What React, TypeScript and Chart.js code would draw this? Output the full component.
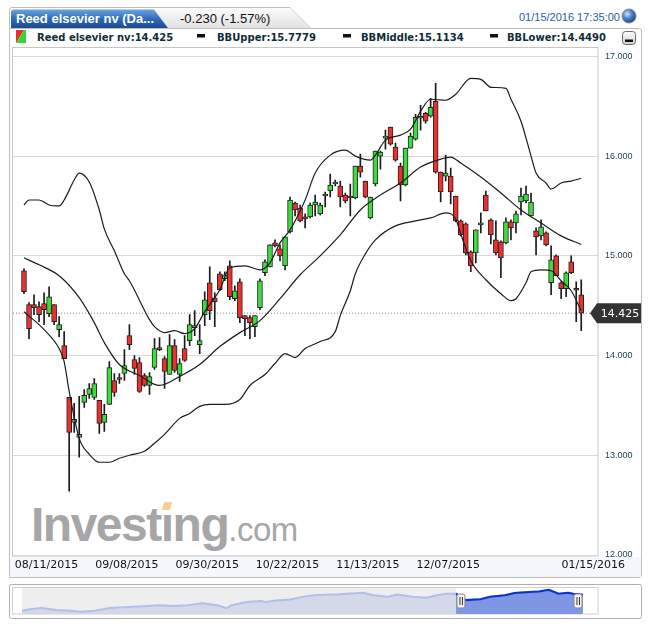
import React, { useEffect, useRef } from 'react';
import { Chart, registerables } from 'chart.js';

Chart.register(...registerables);

// trading sessions shown in the main chart
const tradingDays = [
  '08/11/2015', '08/12/2015', '08/13/2015', '08/14/2015', '08/17/2015', '08/18/2015', '08/19/2015', '08/20/2015',
  '08/21/2015', '08/24/2015', '08/25/2015', '08/26/2015', '08/27/2015', '08/28/2015', '08/31/2015',
  '09/01/2015', '09/02/2015', '09/03/2015', '09/04/2015', '09/07/2015', '09/08/2015', '09/09/2015', '09/10/2015',
  '09/11/2015', '09/14/2015', '09/15/2015', '09/16/2015', '09/17/2015', '09/18/2015', '09/21/2015', '09/22/2015',
  '09/23/2015', '09/24/2015', '09/25/2015', '09/28/2015', '09/29/2015', '09/30/2015',
  '10/01/2015', '10/02/2015', '10/05/2015', '10/06/2015', '10/07/2015', '10/08/2015', '10/09/2015', '10/12/2015',
  '10/13/2015', '10/14/2015', '10/15/2015', '10/16/2015', '10/19/2015', '10/20/2015', '10/21/2015', '10/22/2015',
  '10/23/2015', '10/26/2015', '10/27/2015', '10/28/2015', '10/29/2015', '10/30/2015',
  '11/02/2015', '11/03/2015', '11/04/2015', '11/05/2015', '11/06/2015', '11/09/2015', '11/10/2015', '11/11/2015',
  '11/12/2015', '11/13/2015', '11/16/2015', '11/17/2015', '11/18/2015', '11/19/2015', '11/20/2015', '11/23/2015',
  '11/24/2015', '11/25/2015', '11/26/2015', '11/27/2015', '11/30/2015',
  '12/01/2015', '12/02/2015', '12/03/2015', '12/04/2015', '12/07/2015', '12/08/2015', '12/09/2015', '12/10/2015',
  '12/11/2015', '12/14/2015', '12/15/2015', '12/16/2015', '12/17/2015', '12/18/2015', '12/21/2015', '12/22/2015',
  '12/23/2015', '12/24/2015', '12/28/2015', '12/29/2015', '12/30/2015', '12/31/2015',
  '01/04/2016', '01/05/2016', '01/06/2016', '01/07/2016', '01/08/2016', '01/11/2016', '01/12/2016', '01/13/2016',
  '01/14/2016', '01/15/2016',
];

const opens = [
  14.85, 14.51, 14.51, 14.49, 14.52, 14.42, 14.51, 14.26, 14.10, 13.58,
  13.33, 13.18, 13.53, 13.61, 13.58, 13.55, 13.33, 13.51, 13.75, 13.77,
  13.82, 14.20, 13.96, 13.93, 13.80, 13.70, 13.88, 14.08, 13.97, 13.81,
  14.10, 13.81, 14.07, 14.15, 14.28, 14.11, 14.41, 14.73, 14.58, 14.82,
  14.77, 14.90, 14.57, 14.74, 14.40, 14.38, 14.29, 14.48, 14.83, 14.89,
  15.13, 15.07, 14.90, 15.24, 15.53, 15.48, 15.39, 15.39, 15.51, 15.42,
  15.60, 15.65, 15.72, 15.70, 15.61, 15.59, 15.58, 15.90, 15.75, 15.38,
  15.72, 16.00, 16.18, 16.29, 16.09, 15.90, 15.71, 16.08, 16.17, 16.38,
  16.43, 16.40, 16.55, 15.84, 15.80, 15.80, 15.60, 15.35, 15.32, 15.04,
  15.03, 15.31, 15.61, 15.36, 15.16, 15.14, 15.13, 15.34, 15.33, 15.54,
  15.55, 15.40, 15.25, 15.20, 15.23, 14.73, 15.00, 14.73, 14.67, 14.94,
  14.66, 14.61,
];
const highs = [
  14.87, 14.53, 14.61, 14.54, 14.63, 14.69, 14.51, 14.39, 14.24, 13.58,
  13.52, 13.59, 13.66, 13.72, 13.77, 13.55, 13.51, 13.94, 13.82, 13.82,
  14.06, 14.31, 14.00, 13.98, 13.82, 13.83, 14.17, 14.18, 13.99, 14.21,
  14.16, 13.97, 14.20, 14.41, 14.45, 14.31, 14.64, 14.89, 14.63, 14.84,
  14.84, 14.95, 14.70, 14.77, 14.40, 14.40, 14.40, 14.77, 14.96, 15.11,
  15.16, 15.11, 15.19, 15.59, 15.54, 15.51, 15.42, 15.53, 15.61, 15.53,
  15.64, 15.82, 15.76, 15.75, 15.63, 15.72, 15.90, 16.02, 15.75, 15.59,
  16.05, 16.05, 16.26, 16.29, 16.13, 15.93, 16.08, 16.23, 16.42, 16.51,
  16.44, 16.58, 16.73, 15.84, 16.01, 15.88, 15.60, 15.36, 15.33, 15.05,
  15.26, 15.43, 15.65, 15.37, 15.35, 15.15, 15.38, 15.36, 15.45, 15.68,
  15.70, 15.63, 15.28, 15.36, 15.24, 15.10, 15.01, 14.74, 14.84, 15.00,
  14.74, 14.76,
];
const lows = [
  14.62, 14.17, 14.41, 14.34, 14.31, 14.39, 14.31, 14.19, 13.97, 12.64,
  13.23, 12.98, 13.48, 13.57, 13.56, 13.22, 13.24, 13.51, 13.59, 13.72,
  13.75, 14.06, 13.81, 13.63, 13.69, 13.61, 13.86, 14.05, 13.67, 13.81,
  13.83, 13.74, 13.94, 14.10, 14.20, 14.02, 14.30, 14.36, 14.29, 14.65,
  14.75, 14.56, 14.55, 14.33, 14.20, 14.17, 14.19, 14.46, 14.80, 14.89,
  15.09, 14.95, 14.86, 15.23, 15.40, 15.34, 15.28, 15.38, 15.40, 15.41,
  15.49, 15.59, 15.70, 15.49, 15.53, 15.40, 15.57, 15.79, 15.58, 15.37,
  15.70, 15.87, 16.07, 16.11, 15.95, 15.55, 15.70, 16.08, 16.16, 16.26,
  16.33, 16.39, 15.83, 15.54, 15.75, 15.52, 15.34, 15.20, 15.01, 14.84,
  14.93, 15.23, 15.45, 15.12, 15.01, 14.78, 15.12, 15.16, 15.23, 15.41,
  15.53, 15.40, 15.01, 15.16, 15.10, 14.61, 14.80, 14.57, 14.59, 14.82,
  14.34, 14.25,
];
const closes = [
  14.64, 14.27, 14.48, 14.41, 14.46, 14.59, 14.34, 14.31, 13.97, 13.23,
  13.36, 13.21, 13.60, 13.67, 13.72, 13.32, 13.41, 13.88, 13.63, 13.76,
  13.90, 14.11, 13.87, 13.64, 13.70, 13.79, 14.07, 14.06, 13.84, 14.10,
  13.85, 13.92, 13.95, 14.31, 14.29, 14.15, 14.56, 14.45, 14.54, 14.66,
  14.81, 14.59, 14.65, 14.38, 14.37, 14.33, 14.40, 14.75, 14.94, 15.11,
  15.10, 15.00, 15.19, 15.56, 15.46, 15.35, 15.37, 15.51, 15.54, 15.51,
  15.61, 15.71, 15.74, 15.59, 15.55, 15.58, 15.90, 15.84, 15.59, 15.59,
  16.05, 16.04, 16.19, 16.12, 15.96, 15.71, 16.08, 16.20, 16.39, 16.39,
  16.35, 16.49, 15.84, 15.64, 15.83, 15.64, 15.35, 15.21, 15.03, 14.90,
  15.26, 15.32, 15.45, 15.21, 15.03, 14.98, 15.34, 15.28, 15.42, 15.60,
  15.62, 15.54, 15.19, 15.29, 15.11, 14.96, 14.80, 14.67, 14.83, 14.83,
  14.655, 14.425,
];

// Bollinger bands, [session index, value]
const bbUpper: [number, number][] = [
  [0, 15.51], [1, 15.56], [3, 15.56], [5, 15.51], [7, 15.5], [8, 15.56], [10, 15.76], [11, 15.83],
  [13, 15.74], [15, 15.46], [16, 15.27], [18, 15.05], [20, 14.82], [21, 14.75], [25, 14.36], [26, 14.29],
  [28, 14.23], [30, 14.25], [32, 14.22], [34, 14.27], [36, 14.44], [39, 14.66], [41, 14.88], [44, 14.9],
  [47, 14.86], [49, 14.93], [51, 15.13], [53, 15.26], [56, 15.56], [58, 15.83], [61, 16.01], [64, 16.06],
  [66, 16.0], [69, 15.96], [70, 16.01], [72, 16.16], [75, 16.21], [77, 16.27], [79, 16.45], [81, 16.57],
  [84, 16.56], [86, 16.62], [89, 16.78], [91, 16.77], [93, 16.69], [96, 16.68], [97, 16.57], [99, 16.35],
  [101, 16.0], [102, 15.83], [104, 15.73], [105, 15.67], [107, 15.73], [109, 15.75], [111, 15.7779],
];
const bbMiddle: [number, number][] = [
  [0, 14.98], [3, 14.91], [7, 14.8], [11, 14.58], [14, 14.33], [16, 14.13], [19, 13.91], [23, 13.8],
  [27, 13.7], [31, 13.79], [35, 13.91], [39, 14.09], [43, 14.23], [47, 14.35], [51, 14.57], [55, 14.81],
  [59, 15.0], [63, 15.21], [67, 15.46], [71, 15.61], [75, 15.73], [79, 15.89], [83, 15.97], [85, 15.99],
  [87, 15.93], [91, 15.79], [95, 15.63], [99, 15.46], [103, 15.33], [107, 15.2], [111, 15.1134],
];
const bbLower: [number, number][] = [
  [0, 14.44], [4, 14.26], [7, 14.07], [8, 13.94], [9, 13.64], [11, 13.17], [13, 13.01], [15, 12.93],
  [17, 12.93], [19, 12.97], [21, 13.0], [24, 13.04], [26, 13.12], [28, 13.21], [31, 13.37], [33, 13.42],
  [35, 13.49], [37, 13.51], [40, 13.51], [43, 13.56], [45, 13.7], [48, 13.81], [50, 13.92], [52, 14.02],
  [54, 13.98], [56, 14.07], [59, 14.14], [62, 14.24], [63, 14.4], [65, 14.65], [66, 14.82], [68, 15.02],
  [70, 15.16], [74, 15.3], [78, 15.35], [81, 15.38], [84, 15.43], [86, 15.37], [87, 15.22], [89, 14.95],
  [92, 14.76], [95, 14.62], [97, 14.55], [98, 14.57], [100, 14.73], [101, 14.84], [103, 14.86], [105, 14.85],
  [107, 14.75], [109, 14.65], [111, 14.449],
];

const priceTicks = [12, 13, 14, 15, 16, 17];
const axisDates = ['09/08/2015', '09/30/2015', '10/22/2015', '11/13/2015', '12/07/2015'];
const firstDate = '08/11/2015';
const lastDate = '01/15/2016';

// navigator (weekly history)
const navWeeks = [
  0, 2, 4, 7, 10, 12, 15, 18, 21, 25, 28, 31, 34, 37, 40, 42, 43, 46, 49, 50, 52, 55, 58, 60,
  65, 70, 72, 75, 77, 80, 83, 85, 87, 89, 91, 94, 96, 99, 101, 104, 106, 108, 110, 112, 113, 115,
];
const navCloses = [
  10.53, 10.99, 11.26, 10.72, 10.53, 10.26, 10.53, 11.26, 11.53, 11.8, 12.07, 11.88, 12.07, 12.61, 12.07, 11.26,
  12.07, 12.96, 13.23, 12.96, 13.42, 13.69, 14.5, 14.9, 15.12, 15.58, 14.85, 14.42, 15.04, 14.42, 14.15, 14.85,
  15.31, 15.31, 13.5, 13.77, 14.42, 14.85, 15.5, 15.77, 15.93, 16.39, 15.31, 15.58, 15.31, 15.04,
];
const navSelection = [89, 115];
const navHandles = [90, 114];

const legendItems = ['BBUpper:15.7779', 'BBMiddle:15.1134', 'BBLower:14.4490'];

const lastClose = closes[closes.length - 1];
const X_MIN = -2.19;
const X_MAX = 114.34;
const UP = '#3ddc3d';
const DOWN = '#ec3030';

const priceTag = {
  id: 'priceTag',
  afterDraw(chart: any) {
    const { ctx, chartArea, scales } = chart;
    const y = scales.y.getPixelForValue(lastClose);
    const left = chartArea.right - 1;
    const right = chart.width - 1;
    ctx.save();
    ctx.fillStyle = '#333333';
    ctx.beginPath();
    ctx.moveTo(left - 7, y);
    ctx.lineTo(left, y - 10);
    ctx.lineTo(right, y - 10);
    ctx.lineTo(right, y + 10);
    ctx.lineTo(left, y + 10);
    ctx.closePath();
    ctx.fill();
    ctx.fillStyle = '#ffffff';
    ctx.font = '11px "DejaVu Sans"';
    ctx.textAlign = 'center';
    ctx.textBaseline = 'middle';
    ctx.fillText(lastClose.toFixed(3), (left + right) / 2 + 1, y + 0.5);
    ctx.restore();
  },
};

const PriceChart: React.FC = () => {
  const canvasRef = useRef<HTMLCanvasElement | null>(null);

  useEffect(() => {
    if (!canvasRef.current) return;
    const ctx = canvasRef.current.getContext('2d');
    if (!ctx) return;

    const band = (pts: [number, number][]) => pts.map(([x, y]) => ({ x, y }));
    const bandStyle = {
      type: 'line' as const,
      borderColor: '#1c1c1c',
      borderWidth: 1.2,
      pointRadius: 0,
      cubicInterpolationMode: 'monotone' as const,
      order: 1,
    };
    const tickFont = { family: '"DejaVu Sans"', size: 11 };

    // all date axes share one row under the plot: zero height, mirrored
    // labels (no clip box) pushed below the axis line with a negative padding
    const dateAxis = (dates: string[], offset: number) => ({
      type: 'linear',
      position: 'bottom',
      min: X_MIN,
      max: X_MAX,
      offset: false,
      grid: { display: false, drawTicks: false },
      border: { display: false },
      afterBuildTicks: (axis: any) => {
        axis.ticks = dates.map((d) => ({ value: tradingDays.indexOf(d) }));
      },
      afterFit: (axis: any) => {
        axis.height = 0;
        axis.paddingLeft = 0;
        axis.paddingRight = 0;
      },
      ticks: {
        autoSkip: false,
        maxRotation: 0,
        mirror: true,
        padding: -16,
        labelOffset: offset,
        color: '#111111',
        font: tickFont,
        callback: (v: any) => tradingDays[v as number] ?? '',
      },
    });

    const chart = new Chart(ctx, {
      type: 'bar',
      data: {
        datasets: [
          {
            type: 'line',
            label: 'last',
            data: [{ x: X_MIN, y: lastClose }, { x: X_MAX, y: lastClose }],
            borderColor: '#8c8c8c',
            borderWidth: 1,
            borderDash: [1, 2],
            pointRadius: 0,
            order: 5,
          },
          {
            label: 'wick',
            data: tradingDays.map((_, i) => ({ x: i, y: [lows[i], highs[i]] })),
            backgroundColor: '#1a1a1a',
            barThickness: 1,
            grouped: false,
            order: 4,
          },
          {
            label: 'Reed elsevier nv',
            data: tradingDays.map((_, i) => ({ x: i, y: [opens[i], closes[i]] })),
            backgroundColor: tradingDays.map((_, i) => (closes[i] >= opens[i] ? UP : DOWN)),
            borderColor: '#222222',
            borderWidth: 1,
            borderSkipped: false,
            barThickness: 5,
            minBarLength: 2,
            grouped: false,
            order: 3,
          },
          { ...bandStyle, label: 'BBUpper', data: band(bbUpper) },
          { ...bandStyle, label: 'BBMiddle', data: band(bbMiddle) },
          { ...bandStyle, label: 'BBLower', data: band(bbLower) },
        ] as any,
      },
      options: {
        animation: false,
        responsive: true,
        maintainAspectRatio: false,
        events: [],
        layout: { padding: { left: 5, top: 8, right: 0, bottom: 24 } },
        plugins: { legend: { display: false }, tooltip: { enabled: false } },
        scales: {
          x: dateAxis(axisDates, 2.5),
          xFirst: dateAxis([firstDate], 22.5),
          xLast: dateAxis([lastDate], 12),
          y: {
            type: 'linear',
            position: 'right',
            min: 11.99,
            max: 17.04,
            grid: { color: '#d9d9d9', drawTicks: false },
            border: { display: false },
            afterBuildTicks: (axis: any) => {
              axis.ticks = priceTicks.map((v) => ({ value: v }));
            },
            afterFit: (axis: any) => {
              axis.width = 44;
            },
            ticks: {
              padding: 7,
              color: '#1f3c4a',
              font: { family: '"Liberation Sans"', size: 9 },
              callback: (v: any) => Number(v).toFixed(3),
            },
          },
        },
      } as any,
      plugins: [priceTag],
    });

    return () => {
      chart.destroy();
    };
  }, []);

  return (
    <div style={{ position: 'absolute', left: 8, top: 40, width: 634, height: 540 }}>
      <canvas ref={canvasRef} />
    </div>
  );
};

const navigatorDecor = {
  id: 'navigatorDecor',
  beforeDatasetsDraw(chart: any) {
    const { ctx, chartArea, scales } = chart;
    const x0 = scales.x.getPixelForValue(navWeeks[0]);
    const x1 = scales.x.getPixelForValue(navSelection[0]);
    ctx.save();
    ctx.fillStyle = '#eeeeee';
    ctx.fillRect(x0, chartArea.top, x1 - x0, chartArea.bottom - chartArea.top);
    ctx.restore();
  },
  afterDatasetsDraw(chart: any) {
    const { ctx, chartArea, scales } = chart;
    const cy = chartArea.top + 13;
    ctx.save();
    navHandles.forEach((w) => {
      const cx = scales.x.getPixelForValue(w);
      ctx.fillStyle = '#f4f4f4';
      ctx.strokeStyle = '#8a8a8a';
      ctx.lineWidth = 1;
      ctx.beginPath();
      ctx.roundRect(cx - 4, cy - 7, 8, 14, 2);
      ctx.fill();
      ctx.stroke();
      ctx.strokeStyle = '#333333';
      ctx.beginPath();
      ctx.moveTo(cx - 1, cy - 4);
      ctx.lineTo(cx - 1, cy + 4);
      ctx.moveTo(cx + 1.5, cy - 4);
      ctx.lineTo(cx + 1.5, cy + 4);
      ctx.stroke();
    });
    ctx.restore();
  },
};

const NavigatorChart: React.FC = () => {
  const canvasRef = useRef<HTMLCanvasElement | null>(null);

  useEffect(() => {
    if (!canvasRef.current) return;
    const ctx = canvasRef.current.getContext('2d');
    if (!ctx) return;

    const points = navWeeks.map((w, i) => ({ x: w, y: navCloses[i] }));

    const chart = new Chart(ctx, {
      type: 'line',
      data: {
        datasets: [
          {
            data: points,
            borderColor: '#b3bfe9',
            backgroundColor: '#d4d9ea',
            borderWidth: 2,
            fill: 'start',
            pointRadius: 0,
            tension: 0,
            order: 2,
          },
          {
            data: points.filter((p) => p.x >= navSelection[0]),
            borderColor: '#0a32cc',
            backgroundColor: '#7e96e3',
            borderWidth: 2,
            fill: 'start',
            pointRadius: 0,
            tension: 0,
            order: 1,
          },
        ],
      },
      options: {
        animation: false,
        responsive: true,
        maintainAspectRatio: false,
        events: [],
        layout: { padding: 0 },
        plugins: { legend: { display: false }, tooltip: { enabled: false } },
        scales: {
          x: { type: 'linear', min: -2.05, max: 118.1, display: false },
          y: { min: 9.6, max: 16.9, display: false },
        },
      } as any,
      plugins: [navigatorDecor],
    });

    return () => {
      chart.destroy();
    };
  }, []);

  return (
    <div style={{ position: 'absolute', left: 12, top: 588, width: 586, height: 26 }}>
      <canvas ref={canvasRef} />
    </div>
  );
};

const Frame: React.FC = () => {
  const legendFont = { fontFamily: '"DejaVu Sans"', fontWeight: 700, fontSize: 10, fill: '#102c38' };
  const dashX = [197, 343, 490];
  const legendX = [217, 361, 507];
  return (
    <svg width={650} height={627} style={{ position: 'absolute', left: 0, top: 0 }}>
      <defs>
        <linearGradient id="tabBlue" x1="0" y1="0" x2="0" y2="1">
          <stop offset="0" stopColor="#6ca4de" />
          <stop offset="0.5" stopColor="#2f6cbb" />
          <stop offset="1" stopColor="#1b4b91" />
        </linearGradient>
        <linearGradient id="tabGray" x1="0" y1="0" x2="0" y2="1">
          <stop offset="0" stopColor="#fbfbfb" />
          <stop offset="1" stopColor="#e2e2e2" />
        </linearGradient>
        <radialGradient id="globe" cx="0.38" cy="0.35" r="0.7">
          <stop offset="0" stopColor="#d4e6fb" />
          <stop offset="0.45" stopColor="#4f86cf" />
          <stop offset="1" stopColor="#163d7a" />
        </radialGradient>
        <linearGradient id="btn" x1="0" y1="0" x2="0" y2="1">
          <stop offset="0" stopColor="#ffffff" />
          <stop offset="1" stopColor="#cfcfcf" />
        </linearGradient>
      </defs>

      {/* header and main panel */}
      <path
        d="M9.5 577.5 V10 Q9.5 7.5 12 7.5 H290 L311 28.5 H639 Q641.5 28.5 641.5 31 V575 Q641.5 577.5 639 577.5 Z"
        fill="#ffffff"
        stroke="#bdbdbd"
      />
      <path d="M154 8 H290 L310 28 H168 Z" fill="url(#tabGray)" />
      <path d="M11 28 V12 Q11 9.5 13.5 9.5 H154 L168 28 Z" fill="url(#tabBlue)" />
      <line x1={9.5} y1={28.5} x2={311} y2={28.5} stroke="#bdbdbd" />
      <text x={16} y={23} fill="#ffffff" fontFamily='"Liberation Sans"' fontWeight={700} fontSize={13}>
        Reed elsevier nv (Da...
      </text>
      <text x={180} y={23} fill="#111111" fontFamily='"Liberation Sans"' fontSize={13}>
        -0.230 (-1.57%)
      </text>
      <text x={519} y={21} fill="#2a5db0" fontFamily='"Liberation Sans"' fontSize={11}>
        01/15/2016 17:35:00
      </text>
      <circle cx={629} cy={16} r={7} fill="url(#globe)" stroke="#8a8a8a" />

      {/* legend row */}
      <polygon points="16,30 24,30 16,43" fill="#e83030" />
      <polygon points="24,30 26,30 26,43 16,43" fill="#33d633" />
      <text x={37} y={41} {...legendFont}>
        Reed elsevier nv:14.425
      </text>
      {legendItems.map((t, i) => (
        <g key={t}>
          <rect x={dashX[i]} y={34} width={8} height={3.5} fill="#111111" />
          <text x={legendX[i]} y={41} {...legendFont}>
            {t}
          </text>
        </g>
      ))}
      <rect x={622.5} y={31.5} width={13} height={13} rx={3} fill="url(#btn)" stroke="#6a6a6a" />
      <rect x={625} y={39.5} width={8} height={2.5} fill="#111111" />

      {/* plot box and date strip */}
      <rect x={12.5} y={47.5} width={585.5} height={508.5} fill="#ffffff" stroke="#c6c6c6" />
      <rect x={10} y={557} width={631} height={20} fill="#f4f7fb" />

      {/* navigator frame */}
      <rect x={9.5} y={584.5} width={632} height={34} rx={2} fill="#ffffff" stroke="#b0b0b0" />
      <rect x={12.5} y={587.5} width={585.5} height={26.5} fill="#ffffff" stroke="#cfcfcf" />
    </svg>
  );
};

const Watermark: React.FC = () => (
  <div
    style={{
      position: 'absolute',
      left: 31,
      top: 501,
      color: '#a6a6a6',
      fontFamily: '"Liberation Sans", Arial, sans-serif',
      whiteSpace: 'nowrap',
      lineHeight: '48px',
    }}
  >
    <span style={{ fontSize: 48, fontWeight: 700, letterSpacing: -1.5 }}>
      Invest
      <span style={{ position: 'relative' }}>
        ı
        <span
          style={{
            position: 'absolute',
            left: 2,
            top: 4,
            width: 8,
            height: 8,
            background: '#f5cf98',
            transform: 'skewX(-15deg)',
          }}
        />
      </span>
      ng
    </span>
    <span style={{ fontSize: 33, letterSpacing: -0.5 }}>.com</span>
  </div>
);

const App: React.FC = () => (
  <div style={{ position: 'absolute', left: 0, top: 0, width: 650, height: 627, background: '#ffffff' }}>
    <Frame />
    <Watermark />
    <PriceChart />
    <NavigatorChart />
  </div>
);

export default App;
